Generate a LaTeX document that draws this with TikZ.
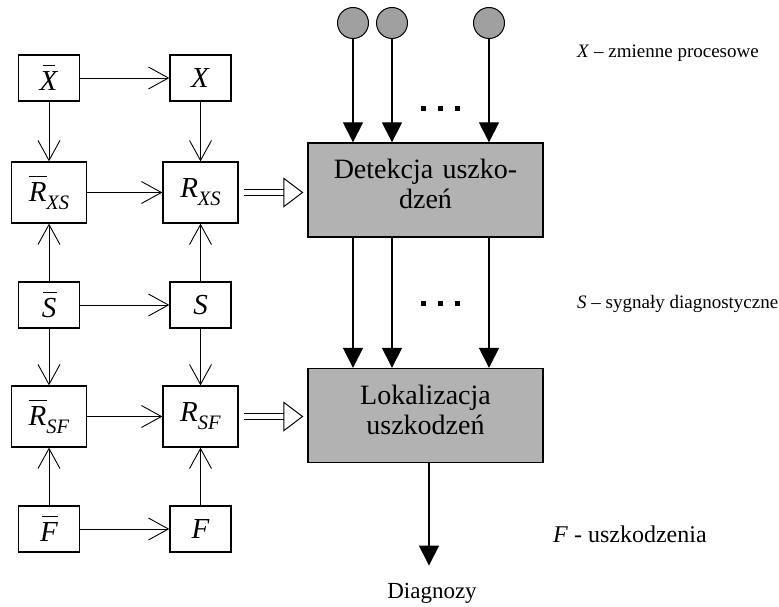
\documentclass[tikz,border=0pt]{standalone}
\usepackage{fontspec}
\setmainfont{Liberation Serif}
\usetikzlibrary{arrows.meta,positioning,calc}
\definecolor{procgray}{RGB}{178,178,178}
\definecolor{srcgray}{RGB}{160,160,160}
% italic letter with a bar, italic subscript
\newcommand\barit[3][0.12em]{\makebox[0pt][l]{\kern#1\rule[0.86em]{#2}{0.8pt}}\textit{#3}}
\newcommand\subit[1]{\raisebox{-0.27em}{\fontsize{20.5}{21}\selectfont\textit{#1}}}

\tikzset{
  blk/.style={draw,line width=1.3pt,minimum width=61pt,minimum height=46pt,inner sep=0pt,
    font=\fontsize{29}{30}\selectfont},
  blkR/.style={blk,minimum width=75pt,minimum height=61pt},
  proc/.style={draw,line width=1.3pt,fill=procgray,minimum width=235pt,minimum height=94pt,
    text width=225pt,align=center,font=\fontsize{28}{30}\selectfont,
    execute at end node={\par\vspace*{12pt}}},
  src/.style={circle,draw,line width=1pt,fill=srcgray,minimum size=31pt,inner sep=0pt},
  lbl/.style={font=\fontsize{19}{22}\selectfont,inner sep=0pt},
  gridarr/.style={line width=0.9pt,-{Straight Barb[length=20pt,width=22pt]}},
  sigarr/.style={line width=1.2pt,-{Triangle[length=20pt,width=20pt]}},
  dblarr/.style={double,double distance=5.5pt,line width=1pt,
    -{Triangle[open,fill=white,length=20pt,width=30pt]},
    shorten <=5pt,shorten >=4pt},
}

\begin{document}
\begin{tikzpicture}[x=1pt,y=-1pt]
  \useasboundingbox (0,0) rectangle (779,607);
  % ---- left grid of blocks
  \node[blk]  (xb)   at (49,78)      {\barit{0.42em}{X}};
  \node[blk]  (x)    at (200.5,78)   {\textit{X}};
  \node[blkR] (rxsb) at (49,192.5)   {\barit[0.02em]{0.6em}{R}\subit{XS}};
  \node[blkR] (rxs)  at (200.5,192.5){\textit{R}\subit{XS}};
  \node[blk]  (sb)   at (49,305)     {\barit[0.04em]{0.5em}{S}};
  \node[blk]  (s)    at (200.5,305)  {\textit{S}};
  \node[blkR] (rsfb) at (49,416.5)   {\barit[0.02em]{0.6em}{R}\subit{SF}};
  \node[blkR] (rsf)  at (200.5,416.5){\textit{R}\subit{SF}};
  \node[blk]  (fb)   at (49,529)     {\barit[0.08em]{0.55em}{F}};
  \node[blk]  (f)    at (200.5,529)  {\textit{F}};
  \foreach \a/\b in {xb/x,xb/rxsb,x/rxs,rxsb/rxs,sb/rxsb,s/rxs,sb/s,
                     sb/rsfb,s/rsf,rsfb/rsf,fb/rsfb,f/rsf,fb/f}
    \draw[gridarr] (\a) -- (\b);
  % ---- processing blocks
  \node[proc] (det) at (425.5,190)   {Detekcja uszko-\\dzeń};
  \node[proc] (lok) at (425.5,415.5) {Lokalizacja\\uszkodzeń};
  \draw[dblarr] (rxs.east) -- (rxs.east -| det.west);
  \draw[dblarr] (rsf.east) -- (rsf.east -| lok.west);
  % ---- process variables and signals
  \node[src] (c1) at (353,23) {};
  \node[src] (c2) at (392,23) {};
  \node[src] (c3) at (489,23) {};
  \foreach \c in {c1,c2,c3} {
    \draw[sigarr] (\c) -- (\c |- det.north);
    \draw[sigarr] (det.south -| \c) -- (lok.north -| \c);
  }
  \foreach \dx in {0,17,34} {
    \fill (421+\dx,106) rectangle ++(5,5);
    \fill (421+\dx,301) rectangle ++(5,5);
  }
  % ---- output
  \coordinate (out) at (429,470);
  \node[lbl,font=\fontsize{23}{25}\selectfont,anchor=base] (diag) at (432,598) {Diagnozy};
  \coordinate[above=17pt of diag.north] (dtip);
  \draw[sigarr] (lok.south -| out) -- (out |- dtip);
  % ---- legend
  \node[lbl,anchor=base west] (lx) at (577,58)  {\textit{X} – zmienne procesowe};
  \node[lbl,anchor=base west] (ls) at (577,308) {\textit{S} – sygnały diagnostyczne};
  \node[lbl,font=\fontsize{24}{26}\selectfont,anchor=base west] (lf) at (553,542) {\textit{F} - uszkodzenia};
\end{tikzpicture}
\end{document}
